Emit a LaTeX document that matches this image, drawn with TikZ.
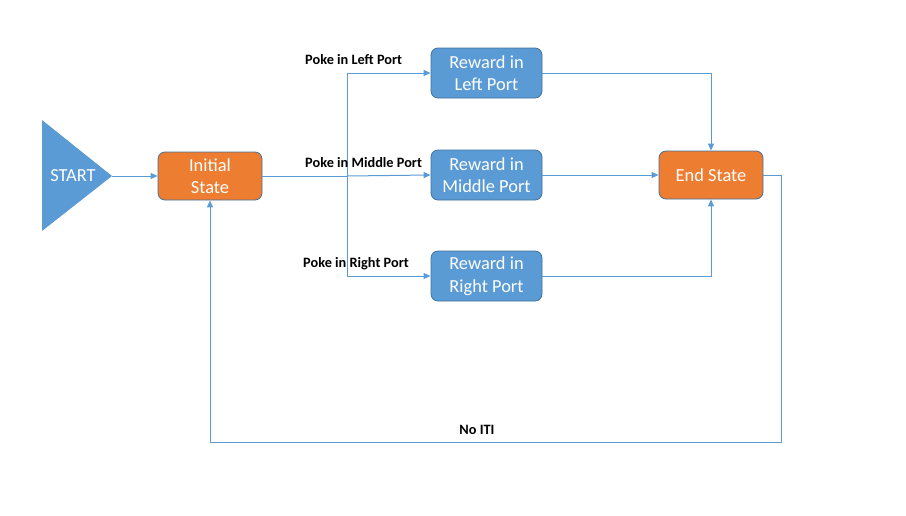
\documentclass[tikz,border=0pt]{standalone}
\usepackage{fontspec}
\setmainfont{Carlito}
\usetikzlibrary{arrows.meta}
\definecolor{boxblue}{HTML}{5B9BD5}
\definecolor{boxedge}{HTML}{41719C}
\definecolor{boxorange}{HTML}{ED7D31}
\definecolor{lineblue}{HTML}{5B9BD5}
\tikzset{
  statebox/.style={draw=boxedge, line width=0.8pt, rounded corners=7pt, minimum width=111pt, minimum height=50pt, text=white, font=\fontsize{18.4}{22.5}\selectfont, align=center, inner sep=0pt},
  bluebox/.style={statebox, fill=boxblue},
  orangebox/.style={statebox, fill=boxorange, minimum width=104pt, minimum height=48pt},
  conn/.style={draw=lineblue, line width=1pt, -{Triangle[length=7pt,width=6pt]}},
  plain/.style={draw=lineblue, line width=1pt},
  lbl/.style={font=\fontsize{14.3}{16}\selectfont\bfseries, text=black, inner sep=0pt}
}
\begin{document}
\begin{tikzpicture}[x=1pt,y=-1pt]
\useasboundingbox (0,0) rectangle (906,515);
\fill[boxblue] (42,120) -- (112,176) -- (42,231) -- cycle;
\node[text=white, font=\fontsize{18.4}{22}\selectfont, inner sep=0pt] (start) at (73,176) {START};
\coordinate (apex) at (112,176);
\node[orangebox] (init) at (210,176) {Initial\\State};
\node[bluebox] (rl) at (486.5,73) {Reward in\\Left Port};
\node[bluebox] (rm) at (486.5,175) {Reward in\\Middle Port};
\node[bluebox] (rr) at (486.5,276) {Reward in\\Right Port};
\node[orangebox] (end) at (711,175) {End State};
\coordinate (split) at (347,176);
\draw[conn] (apex) -- (init.west);
\draw[plain] (init.east) -- (split);
\draw[conn] (split) -- (rm.west);
\draw[conn] (split) |- (rl.west);
\draw[conn] (split) |- (rr.west);
\draw[conn] (rl.east) -| (end.north);
\draw[conn] (rm.east) -- (end.west);
\draw[conn] (rr.east) -| (end.south);
\coordinate (c1) at (781,442);
\draw[conn] (end.east) -| (c1) -| (init.south);
\node[lbl, anchor=west] (l1) at (305,60) {Poke in Left Port};
\node[lbl, anchor=west] (l2) at (305,163) {Poke in Middle Port};
\node[lbl, anchor=west] (l3) at (303,264) {Poke in Right Port};
\node[lbl] (l4) at (477,430) {No ITI};
\end{tikzpicture}
\end{document}
